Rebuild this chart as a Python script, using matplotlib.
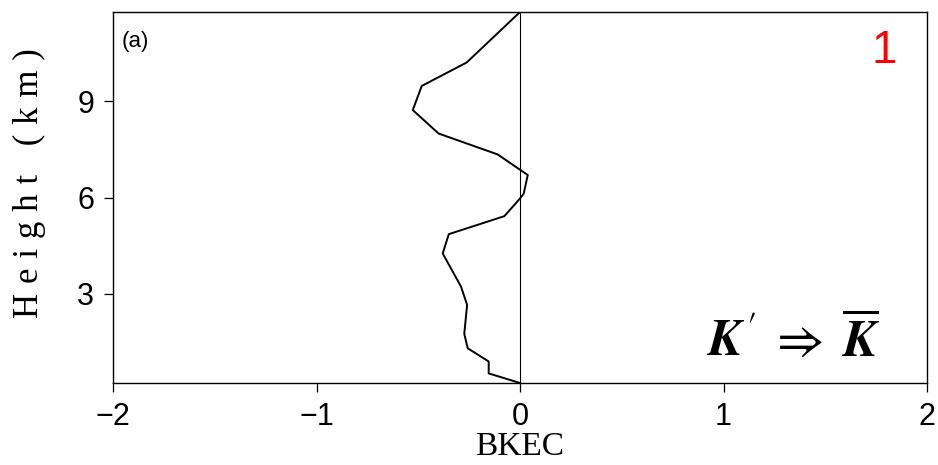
import matplotlib.pyplot as plt

# BKEC profile (a)
height = [0.23, 0.53, 0.90, 1.31, 1.76, 2.66, 3.23, 4.26, 4.86, 5.42,
          5.97, 6.12, 6.70, 7.34, 7.99, 8.72, 9.47, 10.20, 11.77]
bkec = [0.0, -0.154, -0.154, -0.257, -0.274, -0.26, -0.29, -0.38, -0.35, -0.077,
        0.0, 0.018, 0.038, -0.11, -0.40, -0.527, -0.483, -0.262, 0.0]

x_ticks = [-2, -1, 0, 1, 2]
x_labels = ["\u22122", "\u22121", "0", "1", "2"]
y_ticks = [3, 6, 9]

tick_font = ["Liberation Sans", "DejaVu Sans"]
label_font = ["Liberation Serif", "DejaVu Serif"]

plt.rcParams["mathtext.fontset"] = "stix"

fig = plt.figure(figsize=(9.38, 4.65), dpi=100)
ax = fig.add_axes([0.1205, 0.1763, 0.8678, 0.7979])

ax.plot(bkec, height, color="black", lw=1.4)
ax.axvline(0, color="black", lw=0.8)

ax.set_xlim(-2, 2)
ax.set_ylim(0.23, 11.77)
ax.set_xticks(x_ticks)
ax.set_xticklabels(x_labels)
ax.set_yticks(y_ticks)
ax.tick_params(direction="out", length=6.5, width=0.9, pad=7, labelsize=22)
for lab in ax.get_xticklabels() + ax.get_yticklabels():
    lab.set_family(tick_font)
for s in ax.spines.values():
    s.set_linewidth(1.0)

ax.set_xlabel("BKEC", family=label_font, fontsize=24, labelpad=0)
# spaced-out letters like the original plotting font
ax.set_ylabel("\u2009\u200a".join("Height (km)"), family=label_font, fontsize=25)
ax.yaxis.set_label_coords(-0.082, 0.539)

ax.text(0.011, 0.906, "(a)", transform=ax.transAxes, fontsize=16,
        family=["Liberation Sans", "DejaVu Sans"], va="baseline", ha="left")
ax.text(0.963, 0.862, "1", transform=ax.transAxes, fontsize=33, color="red",
        family=["Liberation Sans", "DejaVu Sans"], va="baseline", ha="right")

ax.text(0.835, 0.073,
        r"$\mathbfit{K}^{\,\prime}\;\Rightarrow\;\overline{\mathbfit{K}}$",
        transform=ax.transAxes, fontsize=37, va="baseline", ha="center")

fig.savefig("out.png", dpi=100)
